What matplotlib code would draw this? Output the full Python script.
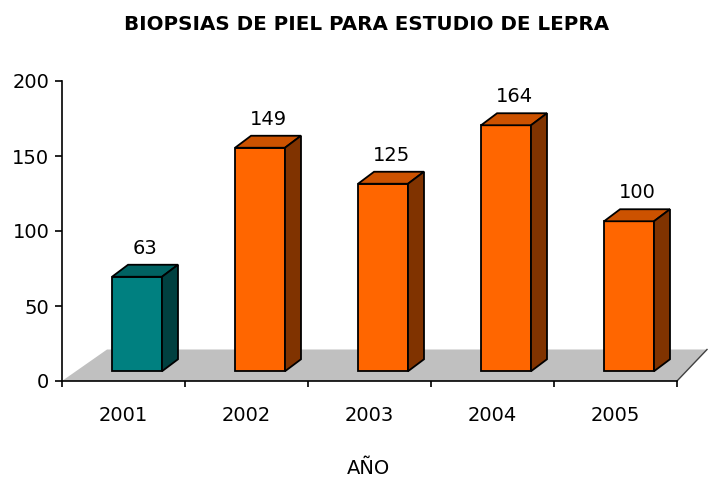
import matplotlib.pyplot as plt
from matplotlib.patches import Polygon

# data
years = ['2001', '2002', '2003', '2004', '2005']
counts = [63, 149, 125, 164, 100]
front_colors = ['#008080', '#FF6600', '#FF6600', '#FF6600', '#FF6600']
top_colors = ['#006262', '#CC5200', '#CC5200', '#CC5200', '#CC5200']
side_colors = ['#004040', '#803300', '#803300', '#803300', '#803300']

# 3d look (data units)
offset = 0.11     # front face shift to the right
half_w = 0.203    # half width of front face
dx, dy = 0.13, 8  # depth
base = 6.5        # front face sits above the floor edge

fig = plt.figure(figsize=(7.08, 4.8), dpi=100)
ax = fig.add_axes([62 / 708, 99 / 480, 646 / 708, 300 / 480])
ax.set_xlim(-0.5, 4.752)
ax.set_ylim(0, 200)

# floor
floor = Polygon([(-0.5, 0), (4.5, 0), (4.744, 21), (-0.134, 21)],
                closed=True, facecolor='#C0C0C0', edgecolor='none', zorder=1)
ax.add_patch(floor)
ax.plot([4.5, 4.744], [0, 21], color='#404040', lw=1, zorder=2)

# bars
for i, v in enumerate(counts):
    x0 = i + offset - half_w
    x1 = i + offset + half_w
    y0 = base
    y1 = base + v
    front = Polygon([(x0, y0), (x1, y0), (x1, y1), (x0, y1)],
                    facecolor=front_colors[i], edgecolor='black', lw=1.3, zorder=3)
    top = Polygon([(x0, y1), (x1, y1), (x1 + dx, y1 + dy), (x0 + dx, y1 + dy)],
                  facecolor=top_colors[i], edgecolor='black', lw=1.3, zorder=3)
    side = Polygon([(x1, y0), (x1 + dx, y0 + dy), (x1 + dx, y1 + dy), (x1, y1)],
                   facecolor=side_colors[i], edgecolor='black', lw=1.3, zorder=3)
    ax.add_patch(front)
    ax.add_patch(top)
    ax.add_patch(side)
    ax.text(i + offset + dx / 2, v + 25.5, str(v), ha='center', va='center',
            fontsize=14, color='black')

# axes styling
for s in ['top', 'right']:
    ax.spines[s].set_visible(False)
ax.spines['bottom'].set_bounds(-0.5, 4.5)
ax.spines['left'].set_linewidth(1.2)
ax.spines['bottom'].set_linewidth(1.2)

ax.set_yticks([0, 50, 100, 150, 200])
ax.tick_params(axis='y', labelsize=14, length=5, width=1.2, pad=4)

ax.set_xticks([-0.5, 0.5, 1.5, 2.5, 3.5, 4.5])
ax.set_xticklabels([])
ax.set_xticks(range(len(years)), minor=True)
ax.set_xticklabels(years, minor=True)
ax.tick_params(axis='x', which='major', length=4, width=1.2)
ax.tick_params(axis='x', which='minor', length=0, labelsize=14, pad=18)

fig.text(367 / 708, 1 - 25 / 480, 'BIOPSIAS DE PIEL PARA ESTUDIO DE LEPRA',
         ha='center', va='center', fontsize=14.3, fontweight='bold')
fig.text(368 / 708, 1 - 468 / 480, 'AÑO', ha='center', va='center', fontsize=14)

fig.savefig('out.png', dpi=100)
